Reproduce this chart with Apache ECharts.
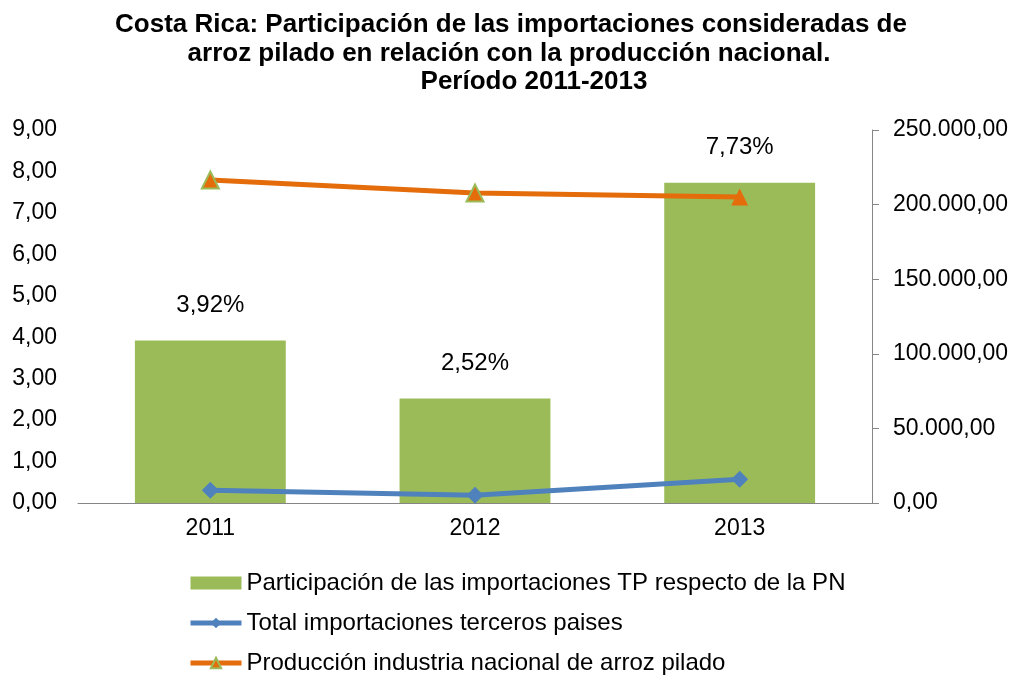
<!DOCTYPE html>
<html><head><meta charset="utf-8">
<script src="https://cdn.jsdelivr.net/npm/echarts@6/dist/echarts.min.js"></script>
<style>html,body{margin:0;padding:0;background:#fff}#c{width:1016px;height:679px}</style>
</head><body><div id="c"></div>
<script>
const titleLines = ['Costa Rica: Participación de las importaciones consideradas de', 'arroz pilado en relación con la producción nacional.', 'Período 2011-2013'];
const categories = ['2011', '2012', '2013'];
const participacion = [3.92, 2.52, 7.73];
const importaciones = [8500, 5240, 15850];
const produccion = [216500, 207800, 205100];
const seriesNames = ['Participación de las importaciones TP respecto de la PN', 'Total importaciones terceros paises', 'Producción industria nacional de arroz pilado'];

const FONT = '"Liberation Sans", Arial, sans-serif';
const fmtLeft = v => v.toFixed(2).replace('.', ',');
const fmtRight = v => {
  const s = Math.round(v).toString().replace(/\B(?=(\d{3})+(?!\d))/g, '.');
  return s + ',00';
};
const titleX = [511, 509, 534];
const titleY = [12, 41, 69];
const chart = echarts.init(document.getElementById('c'), null, {renderer: 'canvas'});
chart.setOption({
  animation: false,
  textStyle: {fontFamily: FONT},
  title: titleLines.map((t, i) => ({
    text: t, left: titleX[i], top: titleY[i], textAlign: 'center', padding: 0,
    textStyle: {fontFamily: FONT, fontWeight: 'bold', fontSize: 26, color: '#000'}
  })),
  legend: {
    orient: 'vertical', left: 188, top: 571, padding: 0, itemGap: 16, itemWidth: 51, itemHeight: 13,
    textStyle: {fontFamily: FONT, fontSize: 24, color: '#000'},
    lineStyle: {width: 5},
    data: [{name: seriesNames[0], icon: 'rect'}, {name: seriesNames[1]}, {name: seriesNames[2]}]
  },
  grid: {left: 78, right: 144, top: 130, bottom: 176, containLabel: false},
  xAxis: {
    type: 'category', data: categories,
    axisLine: {lineStyle: {color: '#868686'}},
    axisTick: {show: false},
    axisLabel: {fontSize: 23, color: '#000', margin: 14, fontFamily: FONT}
  },
  yAxis: [
    {type: 'value', min: 0, max: 9, interval: 1, position: 'left',
     axisLine: {show: false}, axisTick: {show: false}, splitLine: {show: false},
     axisLabel: {fontSize: 23, color: '#000', margin: 21, formatter: fmtLeft, fontFamily: FONT}},
    {type: 'value', min: 0, max: 250000, interval: 50000, position: 'right',
     axisLine: {show: true, lineStyle: {color: '#868686'}},
     axisTick: {show: true, length: 7, lineStyle: {color: '#868686'}},
     splitLine: {show: false},
     axisLabel: {fontSize: 23, color: '#000', margin: 21, formatter: fmtRight, fontFamily: FONT}}
  ],
  series: [
    {name: seriesNames[0], type: 'bar', yAxisIndex: 0, data: participacion, barWidth: '57%',
     itemStyle: {color: '#9BBB59'},
     label: {show: true, position: 'top', distance: 23, fontSize: 24, color: '#000', fontFamily: FONT,
       formatter: p => p.value.toFixed(2).replace('.', ',') + '%'}},
    {name: seriesNames[1], type: 'line', yAxisIndex: 1, data: importaciones,
     symbol: 'diamond', symbolSize: 17, lineStyle: {color: '#4F81BD', width: 5},
     itemStyle: {color: '#4F81BD'}},
    {name: seriesNames[2], type: 'line', yAxisIndex: 1,
     data: produccion.map((v, i) => i === produccion.length - 1 ? {value: v, itemStyle: {borderWidth: 0}} : v),
     symbol: 'triangle', symbolSize: 17, lineStyle: {color: '#E46C0A', width: 5},
     itemStyle: {color: '#E46C0A', borderColor: '#9BBB59', borderWidth: 2}}
  ]
});
</script></body></html>
